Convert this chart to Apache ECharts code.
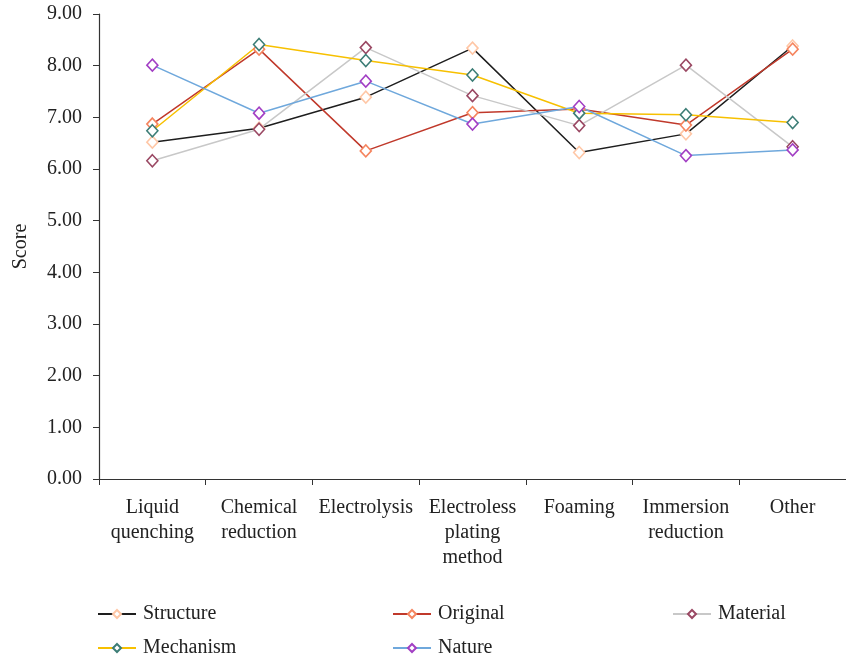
<!DOCTYPE html>
<html>
<head>
<meta charset="utf-8">
<script src="https://cdn.jsdelivr.net/npm/echarts@6/dist/echarts.min.js"></script>
<style>html,body{margin:0;padding:0;background:#fff}#c{width:846px;height:661px}</style>
</head>
<body>
<div id="c"></div>
<script>
const categories = ["Liquid\nquenching", "Chemical\nreduction", "Electrolysis", "Electroless\nplating\nmethod", "Foaming", "Immersion\nreduction", "Other"];
const yTicks = [0, 1, 2, 3, 4, 5, 6, 7, 8, 9];
const structure = [6.52, 6.79, 7.39, 8.34, 6.32, 6.68, 8.38];
const original  = [6.87, 8.32, 6.35, 7.09, 7.16, 6.85, 8.32];
const material  = [6.16, 6.77, 8.35, 7.42, 6.84, 8.01, 6.43];
const mechanism = [6.74, 8.41, 8.10, 7.82, 7.08, 7.05, 6.90];
const nature    = [8.01, 7.08, 7.70, 6.87, 7.21, 6.26, 6.37];

const FONT = 'Liberation Serif';
const seriesDefs = [
  {name: 'Structure', data: structure, line: '#1e1e1e', mark: '#ffc7a6'},
  {name: 'Original',  data: original,  line: '#c0392b', mark: '#f5855f'},
  {name: 'Material',  data: material,  line: '#c8c8c8', mark: '#9a4863'},
  {name: 'Mechanism', data: mechanism, line: '#f7c000', mark: '#3c7d76'},
  {name: 'Nature',    data: nature,    line: '#6fa8dc', mark: '#a23fc4'}
];
const legendPos = [
  {left: 97, top: 602}, {left: 392, top: 602}, {left: 672, top: 602},
  {left: 97, top: 636}, {left: 392, top: 636}
];

const chart = echarts.init(document.getElementById('c'));
chart.setOption({
  animation: false,
  textStyle: {fontFamily: FONT},
  grid: {left: 99, right: -4, top: 14, bottom: 182, containLabel: false},
  xAxis: {
    type: 'category', data: categories, boundaryGap: true,
    axisLine: {lineStyle: {color: '#333', width: 1.2}},
    axisTick: {show: true, alignWithLabel: false, length: 6, lineStyle: {color: '#333'}},
    axisLabel: {color: '#222', fontSize: 20, fontFamily: FONT, lineHeight: 25, margin: 16, interval: 0}
  },
  yAxis: {
    type: 'value', min: yTicks[0], max: yTicks[yTicks.length - 1], interval: 1,
    name: 'Score', nameLocation: 'middle', nameGap: 68, nameRotate: 90,
    nameTextStyle: {color: '#222', fontSize: 20, fontFamily: FONT},
    splitLine: {show: false},
    axisLine: {show: true, lineStyle: {color: '#333', width: 1.2}},
    axisTick: {show: true, length: 6, lineStyle: {color: '#333'}},
    axisLabel: {color: '#222', fontSize: 20, fontFamily: FONT, margin: 17, formatter: v => v.toFixed(2)}
  },
  legend: seriesDefs.map((s, i) => ({
    data: [s.name], left: legendPos[i].left, top: legendPos[i].top + 2,
    itemWidth: 38, itemHeight: 10, itemGap: 8, padding: 0,
    textStyle: {color: '#222', fontSize: 20, fontFamily: FONT, padding: [0, 0, 0, 2]}
  })),
  series: seriesDefs.map(s => ({
    name: s.name, type: 'line', data: s.data,
    symbol: 'diamond', symbolSize: [11, 12], showSymbol: true,
    lineStyle: {color: s.line, width: 1.5},
    itemStyle: {color: '#fff', borderColor: s.mark, borderWidth: 1.6},
    emphasis: {disabled: true}
  }))
});
</script>
</body>
</html>
